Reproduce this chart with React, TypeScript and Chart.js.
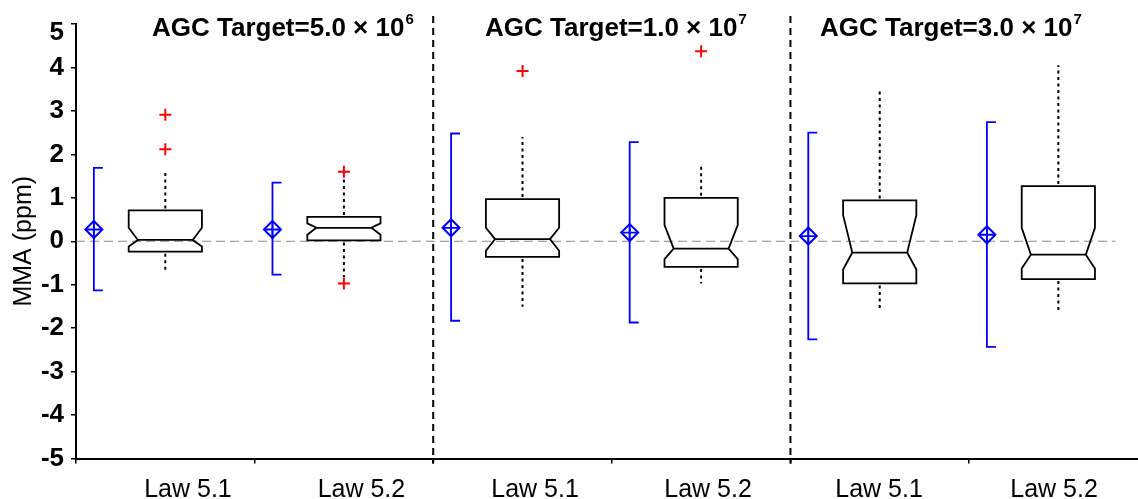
import React, { useEffect, useRef } from 'react';
import { Chart, registerables } from 'chart.js';

Chart.register(...registerables);

// ---------- data ----------
const categories = ['Law 5.1', 'Law 5.2', 'Law 5.1', 'Law 5.2', 'Law 5.1', 'Law 5.2'];
const groupTitles = ['AGC Target=5.0 × 10', 'AGC Target=1.0 × 10', 'AGC Target=3.0 × 10'];
const groupExponents = ['6', '7', '7'];
const separators = [2, 4];

const q1 = [-0.24, 0.02, -0.36, -0.59, -0.97, -0.87];
const q3 = [0.71, 0.56, 0.97, 1.0, 0.94, 1.27];
const medians = [0.03, 0.31, 0.05, -0.17, -0.26, -0.31];
const notchLo = [-0.12, 0.15, -0.22, -0.41, -0.65, -0.63];
const notchHi = [0.31, 0.41, 0.31, 0.37, 0.6, 0.31];
const whiskerLo = [-0.67, -0.82, -1.51, -0.97, -1.59, -1.59];
const whiskerHi = [1.63, 1.48, 2.4, 1.77, 3.47, 4.05];
const outliers = [[2.91, 2.12], [1.6, -0.97], [3.92], [4.37], [], []];

const means = [0.27, 0.27, 0.31, 0.2, 0.12, 0.15];
const ciLo = [-1.13, -0.77, -1.83, -1.87, -2.26, -2.43];
const ciHi = [1.69, 1.35, 2.48, 2.28, 2.5, 2.74];

const yTicks = [-5, -4, -3, -2, -1, 0, 1, 2, 3, 4, 5];
const xTicks = [0, 1, 2, 3, 4, 5];

// ---------- layout (data-unit offsets / pixel styles) ----------
const W = 1138;
const H = 499;
const X_MAX = 5.946;
const Y_MAX = 5;
const BOX_CENTER = 0.5;
const BOX_HALF = 0.205;
const NOTCH_RATIO = 0.75;
const MEAN_OFFSET = 0.1;
const ZERO_END = 5.82;
const LABEL_X = [0.627, 1.598, 2.57, 3.539, 4.496, 5.476];
const TITLE_X = [0.4255, 2.29, 4.166];
const FAMILY = '"Liberation Sans", Arial, Helvetica, sans-serif';

export default function App() {
  const ref = useRef<HTMLCanvasElement>(null);

  useEffect(() => {
    document.body.style.margin = '0';
    const canvas = ref.current;
    if (!canvas) return;

    const outlierPts: { x: number; y: number }[] = [];
    outliers.forEach((arr, i) => arr.forEach((v) => outlierPts.push({ x: i + BOX_CENTER, y: v })));
    const meanPts = means.map((m, i) => ({ x: i + MEAN_OFFSET, y: m }));

    const plugin = {
      id: 'boxplotDraw',
      beforeDatasetsDraw(chart: any) {
        const { ctx, scales } = chart;
        const xs = scales.x;
        const ys = scales.y;
        const px = (v: number) => xs.getPixelForValue(v);
        const py = (v: number) => ys.getPixelForValue(v);

        // zero reference line
        ctx.save();
        ctx.strokeStyle = '#8a8a8a';
        ctx.lineWidth = 1.2;
        ctx.setLineDash([9, 5]);
        ctx.beginPath();
        ctx.moveTo(px(0), py(0));
        ctx.lineTo(px(ZERO_END), py(0));
        ctx.stroke();
        ctx.restore();

        // group separators
        ctx.save();
        ctx.strokeStyle = '#000';
        ctx.lineWidth = 2;
        ctx.setLineDash([7, 5]);
        separators.forEach((s) => {
          ctx.beginPath();
          ctx.moveTo(px(s), chart.chartArea.top - 8);
          ctx.lineTo(px(s), chart.chartArea.bottom + 5);
          ctx.stroke();
        });
        ctx.restore();

        // confidence intervals (blue brackets)
        ctx.save();
        ctx.strokeStyle = '#0000ff';
        ctx.lineWidth = 1.8;
        categories.forEach((_, i) => {
          const x = px(i + MEAN_OFFSET);
          ctx.beginPath();
          ctx.moveTo(x + 9, py(ciHi[i]));
          ctx.lineTo(x, py(ciHi[i]));
          ctx.lineTo(x, py(ciLo[i]));
          ctx.lineTo(x + 9, py(ciLo[i]));
          ctx.stroke();
        });
        ctx.restore();

        // boxes
        ctx.save();
        ctx.strokeStyle = '#000';
        ctx.lineWidth = 1.8;
        ctx.lineJoin = 'miter';
        categories.forEach((_, i) => {
          const c = i + BOX_CENTER;
          const xl = px(c - BOX_HALF);
          const xr = px(c + BOX_HALF);
          const xli = px(c - BOX_HALF * NOTCH_RATIO);
          const xri = px(c + BOX_HALF * NOTCH_RATIO);
          ctx.setLineDash([]);
          ctx.beginPath();
          ctx.moveTo(xl, py(q3[i]));
          ctx.lineTo(xr, py(q3[i]));
          ctx.lineTo(xr, py(notchHi[i]));
          ctx.lineTo(xri, py(medians[i]));
          ctx.lineTo(xr, py(notchLo[i]));
          ctx.lineTo(xr, py(q1[i]));
          ctx.lineTo(xl, py(q1[i]));
          ctx.lineTo(xl, py(notchLo[i]));
          ctx.lineTo(xli, py(medians[i]));
          ctx.lineTo(xl, py(notchHi[i]));
          ctx.closePath();
          ctx.stroke();
          ctx.beginPath();
          ctx.moveTo(xli, py(medians[i]));
          ctx.lineTo(xri, py(medians[i]));
          ctx.stroke();
          // whiskers
          const xc = px(c);
          ctx.lineWidth = 2;
          ctx.setLineDash([3, 3.5]);
          ctx.beginPath();
          ctx.moveTo(xc, py(q3[i]) - 2);
          ctx.lineTo(xc, py(whiskerHi[i]));
          ctx.moveTo(xc, py(q1[i]) + 2);
          ctx.lineTo(xc, py(whiskerLo[i]));
          ctx.stroke();
          ctx.lineWidth = 1.8;
        });
        ctx.restore();
      },
      afterDraw(chart: any) {
        const { ctx, scales } = chart;
        const xs = scales.x;
        ctx.save();
        ctx.fillStyle = '#000';
        // group titles
        groupTitles.forEach((t, i) => {
          const x0 = xs.getPixelForValue(TITLE_X[i]);
          ctx.font = `bold 26px ${FAMILY}`;
          ctx.textAlign = 'left';
          ctx.textBaseline = 'alphabetic';
          ctx.fillText(t, x0, 36);
          const w = ctx.measureText(t).width;
          ctx.font = `bold 15px ${FAMILY}`;
          ctx.fillText(groupExponents[i], x0 + w + 1, 24);
        });
        // category labels
        ctx.font = `25px ${FAMILY}`;
        ctx.textAlign = 'center';
        categories.forEach((c, i) => {
          ctx.fillText(c, xs.getPixelForValue(LABEL_X[i]), 497);
        });
        ctx.restore();
      },
    };

    const chart = new Chart(canvas, {
      type: 'scatter',
      data: {
        datasets: [
          {
            data: outlierPts,
            pointStyle: 'cross',
            radius: 6,
            borderColor: '#ff0000',
            backgroundColor: '#ff0000',
            borderWidth: 2,
          },
          {
            data: meanPts,
            pointStyle: 'rectRot',
            radius: 8.5,
            borderColor: '#0000ff',
            backgroundColor: 'rgba(0,0,0,0)',
            borderWidth: 2,
          },
          {
            data: meanPts,
            pointStyle: 'cross',
            radius: 8.5,
            borderColor: '#0000ff',
            borderWidth: 1.8,
          },
        ],
      } as any,
      options: {
        responsive: false,
        animation: false,
        events: [],
        layout: { autoPadding: false, padding: { top: 24, right: 0, left: 0, bottom: 0 } },
        plugins: { legend: { display: false }, tooltip: { enabled: false } },
        scales: {
          x: {
            type: 'linear',
            min: 0,
            max: X_MAX,
            afterBuildTicks: (s: any) => {
              s.ticks = xTicks.map((v) => ({ value: v }));
            },
            afterFit: (s: any) => {
              s.height = 40.5;
              s.paddingLeft = 0;
              s.paddingRight = 0;
            },
            ticks: { callback: () => '', padding: 0 },
            grid: { drawOnChartArea: false, drawTicks: true, tickLength: 5, color: '#000', lineWidth: 1.5 },
            border: { display: true, color: '#000', width: 2 },
          },
          y: {
            type: 'linear',
            min: -5,
            max: Y_MAX,
            afterBuildTicks: (s: any) => {
              s.ticks = yTicks.map((v) => ({ value: v }));
            },
            afterFit: (s: any) => {
              s.width = 76;
              s.paddingTop = 0;
              s.paddingBottom = 0;
            },
            ticks: {
              color: '#000',
              padding: 7,
              // the top label sits just below its tick, as in the original figure
              callback: (v: any) => (v === Y_MAX ? ['', String(v)] : String(v)),
              font: (c: any) => ({
                family: FAMILY,
                size: 26,
                weight: 'bold',
                lineHeight: c.tick && c.tick.value === Y_MAX ? '18px' : 1.2,
              }),
            },
            grid: { drawOnChartArea: false, drawTicks: true, tickLength: 5, color: '#000', lineWidth: 1.5 },
            border: { display: true, color: '#000', width: 2 },
            title: {
              display: true,
              text: 'MMA (ppm)',
              color: '#000',
              font: { family: FAMILY, size: 25 },
              padding: { top: 9, bottom: 0 },
            },
          },
        },
      } as any,
      plugins: [plugin],
    });

    return () => chart.destroy();
  }, []);

  return (
    <div style={{ position: 'absolute', left: 0, top: 0, width: W, height: H, background: '#fff' }}>
      <canvas ref={ref} width={W} height={H} style={{ display: 'block', width: W, height: H }} />
    </div>
  );
}
